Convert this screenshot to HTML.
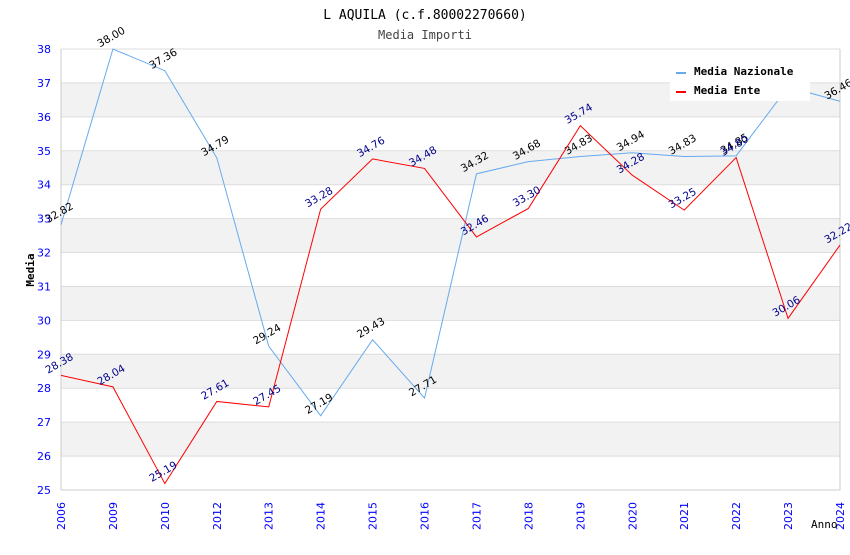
<!DOCTYPE html>
<html><head><meta charset="utf-8"><style>
body{margin:0;background:#fff}
svg text{font-family:"DejaVu Sans Mono","Liberation Mono",monospace}
svg text.s{font-family:"DejaVu Sans","Liberation Sans",sans-serif}
</style></head><body>
<svg id="c" width="850" height="550" xmlns="http://www.w3.org/2000/svg">
<text x="425" y="19" text-anchor="middle" font-size="13" fill="#000">L AQUILA (c.f.80002270660)</text>
<text x="425" y="39" text-anchor="middle" font-size="12" fill="#444">Media Importi</text>
<g id="bands"></g><g id="grid"></g><g id="axes"></g><g id="series"></g>
<text x="34" y="270" font-size="11" font-weight="bold" text-anchor="middle" transform="rotate(-90 34 270)">Media</text>
<text x="811" y="528" font-size="11">Anno</text>
<g>
<rect x="670" y="58" width="140" height="43" fill="#fff"/>
<line x1="676" y1="73" x2="686" y2="73" stroke="#66aaee" stroke-width="2"/>
<text x="694" y="75" font-size="11" font-weight="bold">Media Nazionale</text>
<line x1="676" y1="92" x2="686" y2="92" stroke="#f00" stroke-width="2"/>
<text x="694" y="94" font-size="11" font-weight="bold">Media Ente</text>
</g>
</svg>
<script>
const categories=["2006","2009","2010","2012","2013","2014","2015","2016","2017","2018","2019","2020","2021","2022","2023","2024"];
const nazionale=[32.82,38.00,37.36,34.79,29.24,27.19,29.43,27.71,34.32,34.68,34.83,34.94,34.83,34.85,36.88,36.46];
const ente=[28.38,28.04,25.19,27.61,27.45,33.28,34.76,34.48,32.46,33.30,35.74,34.28,33.25,34.80,30.06,32.22];
const yTicks=[25,26,27,28,29,30,31,32,33,34,35,36,37,38];
const NS="http://www.w3.org/2000/svg";
const L=61,R=840,T=49,B=490,ymin=25,ymax=38;
const x=i=>L+i*(R-L)/(categories.length-1);
const y=v=>B-(v-ymin)*(B-T)/(ymax-ymin);
function mk(p,t,a){const e=document.createElementNS(NS,t);for(const k in a)e.setAttribute(k,a[k]);document.getElementById(p).appendChild(e);return e;}
for(let v=ymin;v<ymax;v++){if((v-ymin)%2===1){const r=mk("bands","rect",{x:L,y:y(v+1),width:R-L,height:y(v)-y(v+1),fill:"#f2f2f2"});

}}
yTicks.forEach(v=>{const g=mk("grid","line",{x1:L,x2:R,y1:y(v),y2:y(v),stroke:"#ddd"});


const t=mk("axes","text",{x:L-10,y:y(v)+4,"font-size":11,fill:"#00f","text-anchor":"end",class:"s"});t.textContent=v;

});
mk("axes","line",{x1:L,x2:L,y1:T,y2:B,stroke:"#ccc"});mk("axes","line",{x1:R,x2:R,y1:T,y2:B,stroke:"#ccc"});
mk("axes","line",{x1:L,x2:R,y1:B,y2:B,stroke:"#ccc"});
categories.forEach((c,i)=>{const t=mk("axes","text",{x:x(i)+4,y:B+40,"font-size":11,fill:"#00f",class:"s",transform:`rotate(-90 ${x(i)+4} ${B+40})`});t.textContent=c;

});
function series(data,color,lc,name){
const p=mk("series","polyline",{points:data.map((v,i)=>x(i)+","+y(v)).join(" "),fill:"none",stroke:color,"stroke-width":1});


data.forEach((v,i)=>{const tx=x(i),ty=y(v)-9;const t=mk("series","text",{x:tx,y:ty,"font-size":10.5,fill:lc,class:"s","text-anchor":"middle",transform:`rotate(-30 ${tx} ${ty})`});t.textContent=v.toFixed(2);

});}
series(nazionale,"#66aaee","#000","nazionale");
series(ente,"#f00","#00008b","ente");
</script>
</body></html>
